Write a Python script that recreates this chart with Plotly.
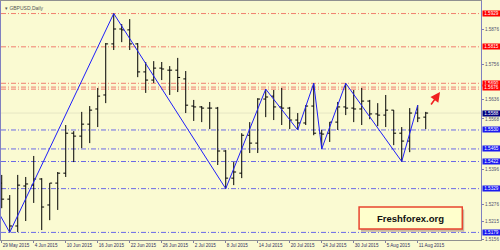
import plotly.graph_objects as go

# ---- data -------------------------------------------------------------
bar_idx = list(range(54))  # trading days 29 May 2015 .. 12 Aug 2015

opens = [1.5348, 1.5293, 1.5201, 1.5338, 1.5341, 1.5362, 1.5273, 1.5348, 1.5382, 1.5519,
         1.5509, 1.5550, 1.5602, 1.5650, 1.5825, 1.5876, 1.5873, 1.5825, 1.5729, 1.5701,
         1.5742, 1.5735, 1.5735, 1.5705, 1.5612, 1.5609, 1.5605, 1.5605, 1.5458, 1.5365,
         1.5382, 1.5512, 1.5485, 1.5636, 1.5646, 1.5609, 1.5605, 1.5564, 1.5554, 1.5612,
         1.5519, 1.5519, 1.5557, 1.5609, 1.5605, 1.5602, 1.5629, 1.5585, 1.5581, 1.5598,
         1.5519, 1.5492, 1.5588, 1.5574]
highs = [1.5376, 1.5307, 1.5376, 1.5369, 1.5441, 1.5365, 1.5348, 1.5386, 1.5547, 1.5526,
         1.5592, 1.5612, 1.5674, 1.5828, 1.5929, 1.5893, 1.5910, 1.5828, 1.5763, 1.5766,
         1.5763, 1.5749, 1.5777, 1.5732, 1.5633, 1.5612, 1.5626, 1.5609, 1.5461, 1.5420,
         1.5519, 1.5557, 1.5639, 1.5670, 1.5667, 1.5674, 1.5609, 1.5588, 1.5615, 1.5690,
         1.5530, 1.5557, 1.5626, 1.5690, 1.5667, 1.5674, 1.5633, 1.5622, 1.5650, 1.5598,
         1.5540, 1.5605, 1.5615, 1.5592]
lows = [1.5262, 1.5179, 1.5180, 1.5218, 1.5280, 1.5187, 1.5221, 1.5256, 1.5369, 1.5420,
        1.5468, 1.5485, 1.5540, 1.5622, 1.5804, 1.5831, 1.5804, 1.5711, 1.5657, 1.5691,
        1.5701, 1.5650, 1.5660, 1.5588, 1.5561, 1.5557, 1.5533, 1.5410, 1.5329, 1.5341,
        1.5365, 1.5451, 1.5451, 1.5574, 1.5564, 1.5547, 1.5533, 1.5530, 1.5547, 1.5512,
        1.5465, 1.5489, 1.5530, 1.5581, 1.5557, 1.5547, 1.5567, 1.5543, 1.5540, 1.5478,
        1.5422, 1.5454, 1.5557, 1.5533]
closes = [1.5293, 1.5201, 1.5341, 1.5345, 1.5362, 1.5266, 1.5348, 1.5382, 1.5519, 1.5509,
          1.5550, 1.5598, 1.5646, 1.5825, 1.5876, 1.5873, 1.5825, 1.5729, 1.5701, 1.5742,
          1.5739, 1.5735, 1.5710, 1.5615, 1.5609, 1.5605, 1.5605, 1.5458, 1.5365, 1.5386,
          1.5512, 1.5485, 1.5636, 1.5643, 1.5609, 1.5605, 1.5564, 1.5554, 1.5612, 1.5519,
          1.5516, 1.5557, 1.5609, 1.5605, 1.5602, 1.5629, 1.5585, 1.5581, 1.5598, 1.5519,
          1.5492, 1.5588, 1.5571, 1.5588]

zigzag_idx = [-12, 1, 14, 28, 33, 37, 39, 40, 43, 50, 52]
zigzag_val = [1.5815, 1.5179, 1.5929, 1.5329, 1.5670, 1.5530, 1.5690, 1.5465, 1.5690, 1.5422, 1.5615]

resistance_levels = [1.5929, 1.5815, 1.5690, 1.5677, 1.5670]
resistance_labels = [1.5929, 1.5815, 1.5690, 1.5676]
support_levels = [1.5530, 1.5465, 1.5422, 1.5329, 1.5179]
bid_price = 1.5588

date_tick_idx = [0, 4, 8, 12, 16, 20, 24, 28, 32, 36, 40, 44, 48, 52]
date_tick_text = ["29 May 2015", "4 Jun 2015", "10 Jun 2015", "16 Jun 2015", "22 Jun 2015",
                  "26 Jun 2015", "2 Jul 2015", "8 Jul 2015", "14 Jul 2015", "20 Jul 2015",
                  "24 Jul 2015", "30 Jul 2015", "5 Aug 2015", "11 Aug 2015"]
price_tick_vals = [1.5876, 1.5756, 1.5636, 1.5568, 1.5396, 1.5276, 1.5216, 1.5156]
price_tick_text = ["1.5876", "1.5756", "1.5636", "1.5568", "1.5396", "1.5276", "1.5215", "1.5156"]

# ---- figure -----------------------------------------------------------
BG = "#FAFAD2"
FONT = "Liberation Sans"
fig = go.Figure()

for v in resistance_levels:
    fig.add_shape(type="line", xref="paper", x0=0, x1=1, yref="y", y0=v, y1=v,
                  line=dict(color="#F07E6E", width=1, dash="5px,2px,1px,2px"), layer="below")
for v in support_levels:
    fig.add_shape(type="line", xref="paper", x0=0, x1=1, yref="y", y0=v, y1=v,
                  line=dict(color="#6A6AE6", width=1, dash="5px,2px,1px,2px"), layer="below")
fig.add_shape(type="line", xref="paper", x0=0, x1=1, yref="y", y0=bid_price, y1=bid_price,
              line=dict(color="#E6E6C4", width=1), layer="below")

fig.add_trace(go.Ohlc(x=bar_idx, open=opens, high=highs, low=lows, close=closes,
                      increasing=dict(line=dict(color="#000000", width=1)),
                      decreasing=dict(line=dict(color="#000000", width=1)),
                      tickwidth=0.3, hoverinfo="skip", showlegend=False))

fig.add_trace(go.Scatter(x=zigzag_idx, y=zigzag_val, mode="lines",
                         line=dict(color="#1E1EFA", width=1), hoverinfo="skip", showlegend=False))

# right-hand price boxes
for v in resistance_labels:
    fig.add_annotation(x=1, xref="paper", y=v, yref="y", xanchor="left", yanchor="middle",
                       text=f"{v:.4f}", showarrow=False, bgcolor="#FF0000",
                       font=dict(color="white", size=4.6, family=FONT),
                       borderpad=0, xshift=1, width=17, height=5)
for v in support_levels:
    fig.add_annotation(x=1, xref="paper", y=v, yref="y", xanchor="left", yanchor="middle",
                       text=f"{v:.4f}", showarrow=False, bgcolor="#1A1AF0",
                       font=dict(color="white", size=4.6, family=FONT),
                       borderpad=0, xshift=1, width=17, height=5)
fig.add_annotation(x=1, xref="paper", y=bid_price, yref="y", xanchor="left", yanchor="middle",
                   text=f"{bid_price:.4f}", showarrow=False, bgcolor="#000080",
                   font=dict(color="white", size=4.6, family=FONT),
                   borderpad=0, xshift=1, width=17, height=5)

# title
fig.add_annotation(x=0, xref="paper", y=1, yref="paper", xanchor="left", yanchor="top",
                   text="▾ GBPUSD,Daily", showarrow=False, xshift=2, yshift=-2,
                   font=dict(color="#555555", size=5, family=FONT))

# red forecast arrow
fig.add_annotation(x=0.9146, xref="paper", y=0.619, yref="paper", ax=-10, ay=14,
                   showarrow=True, arrowhead=2, arrowsize=1.2, arrowwidth=1.6,
                   arrowcolor="#F02020", text="")

# Freshforex logo box
fig.add_shape(type="rect", xref="paper", yref="paper", x0=0.750, x1=0.965, y0=0.035, y1=0.128,
              fillcolor="#C8B8A0", line=dict(width=0), layer="above")
fig.add_shape(type="rect", xref="paper", yref="paper", x0=0.746, x1=0.961, y0=0.046, y1=0.138,
              fillcolor="#FFFFCC", line=dict(color="#E8442E", width=1.5), layer="above")
fig.add_annotation(x=0.8535, xref="paper", y=0.092, yref="paper", xanchor="center", yanchor="middle",
                   text="<b>Freshforex.org</b>", showarrow=False,
                   font=dict(color="#111111", size=9.5, family=FONT))

fig.update_layout(
    width=500, height=250,
    margin=dict(l=1, r=19, t=1, b=10),
    paper_bgcolor=BG, plot_bgcolor=BG,
    hovermode=False, dragmode=False,
    xaxis=dict(range=[-0.09, 59.91], rangeslider=dict(visible=False),
               tickmode="array", tickvals=date_tick_idx, ticktext=date_tick_text,
               ticklabelposition="outside right", tickangle=0,
               ticks="outside", ticklen=2, tickcolor="#8080A0",
               tickfont=dict(size=4.6, color="#303060", family=FONT),
               showgrid=False, zeroline=False,
               showline=True, linecolor="#909090", linewidth=1, mirror=True),
    yaxis=dict(range=[1.5153, 1.5972], side="right",
               tickmode="array", tickvals=price_tick_vals, ticktext=price_tick_text,
               ticks="outside", ticklen=2, tickcolor="#8080B0",
               tickfont=dict(size=4.6, color="#505070", family=FONT),
               showgrid=False, zeroline=False,
               showline=True, linecolor="#8080C0", linewidth=1, mirror=True),
)

fig.write_html("out.html")
